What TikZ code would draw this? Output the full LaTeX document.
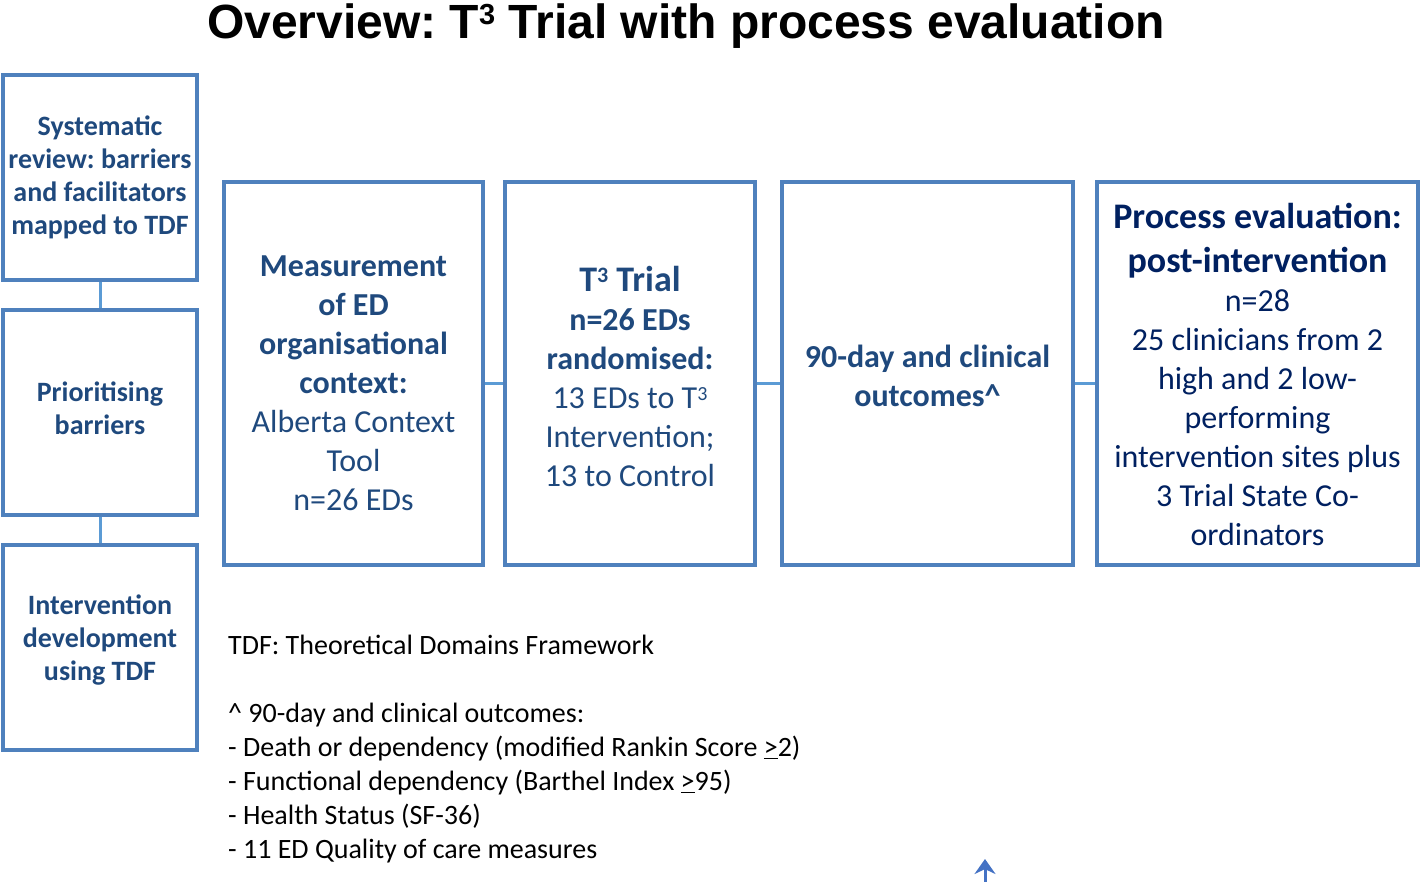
\documentclass[tikz,border=0pt]{standalone}
\usepackage{fontspec}
\setmainfont{Carlito}
\newfontfamily\titlefont{Liberation Sans}
\usetikzlibrary{arrows.meta}
\definecolor{boxblue}{RGB}{79,129,189}
\definecolor{linkblue}{RGB}{91,155,213}
\definecolor{textblue}{RGB}{31,73,125}
\definecolor{navy}{RGB}{0,32,96}
\definecolor{arrowblue}{RGB}{68,114,196}
% raised small 3: #1 raise, #2 size
\newcommand{\tsup}[2]{\raisebox{#1}{\fontsize{#2}{#2}\selectfont 3}}
\frenchspacing

\begin{document}
\begin{tikzpicture}[x=1pt,y=-1pt,
    sidebox/.style={draw=boxblue, line width=4pt, minimum width=194pt, minimum height=205pt},
    mainbox/.style={draw=boxblue, line width=4pt, minimum height=383pt},
    sidetext/.style={inner sep=0pt, align=center, text=textblue, font=\bfseries\fontsize{28}{33}\selectfont},
    maintext/.style={inner sep=0pt, align=center, text=textblue, font=\fontsize{32}{39}\selectfont},
    link/.style={draw=linkblue, line width=3pt},
    uparrow/.style={draw=arrowblue, line width=3pt, -{Stealth[length=15pt,width=21pt]}}]
    \useasboundingbox (0,0) rectangle (1421,882);
    \node[anchor=base, font=\titlefont\bfseries\fontsize{48}{56}\selectfont] (title) at (686,39) {Overview: T\tsup{14pt}{29} Trial with process evaluation};
    % left column
    \node[sidebox] (review) at (100,177.5) {};
    \node[sidebox] (prior) at (100,412.5) {};
    \node[sidebox] (devel) at (100,647) {};
    \node[sidetext] (reviewtext) at (review) {Systematic\\review: barriers\\and facilitators\\mapped to TDF};
    \node[sidetext] (priortext) at ([yshift=4pt]prior) {Prioritising\\barriers};
    \node[sidetext] (develtext) at ([yshift=7pt]devel) {Intervention\\development\\using TDF};
    \draw[link] (review) -- (prior);
    \draw[link] (prior) -- (devel);
    % main row
    \node[mainbox, minimum width=259pt] (context) at (353.5,373.5) {};
    \node[mainbox, minimum width=250pt] (trial) at (630,373.5) {};
    \node[mainbox, minimum width=291pt] (outcome) at (927.5,373.5) {};
    \node[mainbox, minimum width=321pt] (process) at (1257.5,373.5) {};
    \node[maintext] (contexttext) at ([yshift=-9.5pt]context) {\textbf{Measurement}\\\textbf{of ED}\\\textbf{organisational}\\\textbf{context:}\\Alberta Context\\Tool\\n=26 EDs};
    \node[maintext] (trialtext) at ([yshift=-3pt]trial) {{\fontsize{36}{39}\selectfont\textbf{T\tsup{9pt}{22} Trial}}\\\textbf{n=26 EDs}\\\textbf{randomised:}\\13 EDs to T\tsup{8pt}{20}\\Intervention;\\13 to Control};
    \node[maintext] (outcometext) at ([yshift=-2pt]outcome) {\textbf{90-day and clinical}\\\textbf{outcomes\textasciicircum}};
    \node[maintext, text=navy] (processtext) at ([yshift=-1pt]process) {{\fontsize{36}{45}\selectfont\textbf{Process evaluation:}}\\[5pt]{\fontsize{36}{45}\selectfont\textbf{post-intervention}}\\n=28\\25 clinicians from 2\\high and 2 low-\\performing\\intervention sites plus\\3 Trial State Co-\\ordinators};
    \draw[link] ([yshift=-9.5pt]context.east) -- ([yshift=-9.5pt]trial.west);
    \draw[link] ([yshift=-9.5pt]trial.east) -- ([yshift=-9.5pt]outcome.west);
    \draw[link] ([yshift=-9.5pt]outcome.east) -- ([yshift=-9.5pt]process.west);
    % notes
    \node[anchor=north west, inner sep=0pt, align=left, font=\fontsize{28}{34}\selectfont] (notes) at (228,635) {TDF: Theoretical Domains Framework\\[34pt]\textasciicircum{} 90-day and clinical outcomes:\\- Death or dependency (modified Rankin Score \underline{>}2)\\- Functional dependency (Barthel Index \underline{>}95)\\- Health Status (SF-36)\\- 11 ED Quality of care measures};
    \coordinate (stub) at (985,882);
    \coordinate (tip) at (985,859);
    \draw[uparrow] (stub) -- (tip);
\end{tikzpicture}
\end{document}
